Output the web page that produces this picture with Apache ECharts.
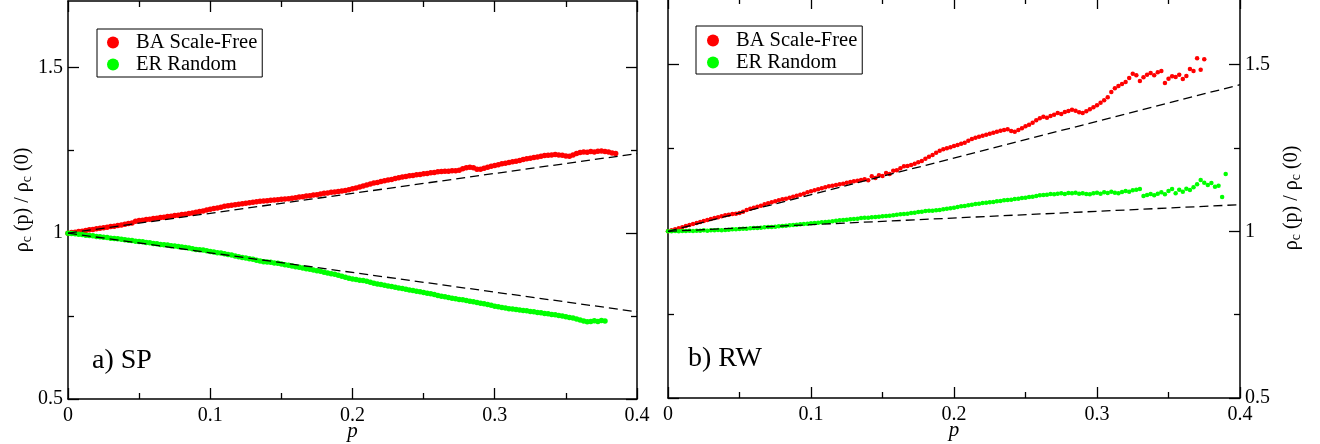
<!DOCTYPE html>
<html><head><meta charset="utf-8">
<script src="https://cdn.jsdelivr.net/npm/echarts@6/dist/echarts.min.js"></script>
<style>html,body{margin:0;padding:0;background:#fff}#c{width:1320px;height:444px}</style>
</head><body><div id="c"></div>
<script>
// p grid shared by all series
const P = [
0,0.0025,0.005,0.0075,0.01,0.0125,0.015,0.0175,0.02,0.0225,0.025,0.0275,0.03,0.0325,0.035,0.0375,0.04,0.0425,0.045,0.0475,
0.05,0.0525,0.055,0.0575,0.06,0.0625,0.065,0.0675,0.07,0.0725,0.075,0.0775,0.08,0.0825,0.085,0.0875,0.09,0.0925,0.095,0.0975,
0.1,0.1025,0.105,0.1075,0.11,0.1125,0.115,0.1175,0.12,0.1225,0.125,0.1275,0.13,0.1325,0.135,0.1375,0.14,0.1425,0.145,0.1475,
0.15,0.1525,0.155,0.1575,0.16,0.1625,0.165,0.1675,0.17,0.1725,0.175,0.1775,0.18,0.1825,0.185,0.1875,0.19,0.1925,0.195,0.1975,
0.2,0.2025,0.205,0.2075,0.21,0.2125,0.215,0.2175,0.22,0.2225,0.225,0.2275,0.23,0.2325,0.235,0.2375,0.24,0.2425,0.245,0.2475,
0.25,0.2525,0.255,0.2575,0.26,0.2625,0.265,0.2675,0.27,0.2725,0.275,0.2775,0.28,0.2825,0.285,0.2875,0.29,0.2925,0.295,0.2975,
0.3,0.3025,0.305,0.3075,0.31,0.3125,0.315,0.3175,0.32,0.3225,0.325,0.3275,0.33,0.3325,0.335,0.3375,0.34,0.3425,0.345,0.3475,
0.35,0.3525,0.355,0.3575,0.36,0.3625,0.365,0.3675,0.37,0.3725,0.375,0.3775,0.38,0.3825,0.385,0.3875,0.39];

// a) SP panel
const spBA = [
1.000,1.002,1.003,1.005,1.006,1.008,1.010,1.011,1.013,1.015,1.016,1.018,1.020,1.021,1.023,1.025,1.027,1.029,1.031,1.036,
1.038,1.039,1.041,1.042,1.044,1.045,1.047,1.048,1.050,1.051,1.053,1.054,1.056,1.057,1.059,1.061,1.063,1.065,1.067,1.070,
1.072,1.074,1.076,1.078,1.081,1.083,1.084,1.086,1.087,1.089,1.090,1.092,1.093,1.095,1.096,1.097,1.098,1.099,1.100,1.101,
1.102,1.103,1.104,1.105,1.107,1.109,1.110,1.112,1.113,1.115,1.116,1.118,1.120,1.121,1.123,1.124,1.126,1.127,1.129,1.131,
1.134,1.136,1.139,1.142,1.145,1.148,1.151,1.153,1.156,1.158,1.160,1.162,1.165,1.167,1.169,1.171,1.173,1.174,1.176,1.177,
1.179,1.180,1.182,1.183,1.185,1.186,1.187,1.187,1.188,1.188,1.190,1.194,1.197,1.199,1.197,1.193,1.193,1.196,1.199,1.202,
1.204,1.206,1.209,1.211,1.213,1.215,1.217,1.219,1.222,1.224,1.226,1.228,1.230,1.232,1.234,1.235,1.236,1.237,1.236,1.235,
1.233,1.232,1.236,1.240,1.243,1.245,1.244,1.246,1.245,1.247,1.248,1.246,1.245,1.242,1.240];
const spER = [
1.000,0.999,0.998,0.997,0.996,0.994,0.993,0.992,0.990,0.989,0.988,0.987,0.985,0.984,0.983,0.982,0.980,0.979,0.978,0.976,
0.975,0.974,0.972,0.971,0.969,0.968,0.966,0.965,0.964,0.962,0.961,0.960,0.958,0.957,0.955,0.953,0.951,0.950,0.949,0.947,
0.945,0.943,0.941,0.940,0.938,0.936,0.934,0.931,0.929,0.927,0.925,0.923,0.921,0.918,0.916,0.914,0.913,0.912,0.910,0.909,
0.907,0.905,0.903,0.901,0.899,0.897,0.895,0.893,0.891,0.889,0.887,0.885,0.882,0.880,0.878,0.876,0.873,0.870,0.867,0.864,
0.862,0.860,0.858,0.857,0.855,0.852,0.849,0.847,0.845,0.843,0.841,0.839,0.837,0.835,0.833,0.831,0.829,0.827,0.825,0.823,
0.821,0.819,0.817,0.815,0.812,0.810,0.808,0.806,0.804,0.802,0.800,0.799,0.797,0.795,0.793,0.791,0.789,0.787,0.785,0.783,
0.780,0.778,0.776,0.774,0.772,0.771,0.770,0.768,0.767,0.766,0.764,0.763,0.761,0.760,0.758,0.757,0.755,0.754,0.752,0.750,
0.748,0.746,0.744,0.741,0.738,0.735,0.733,0.734,0.736,0.734,0.737,0.735];

// b) RW panel
const rwBA = [
1.000,1.003,1.006,1.009,1.012,1.016,1.019,1.022,1.025,1.028,1.031,1.034,1.037,1.040,1.042,1.045,1.048,1.050,1.052,1.053,
1.055,1.059,1.064,1.068,1.071,1.074,1.077,1.081,1.084,1.087,1.090,1.093,1.096,1.098,1.101,1.104,1.107,1.110,1.113,1.117,
1.120,1.123,1.126,1.129,1.132,1.135,1.137,1.139,1.141,1.143,1.146,1.148,1.150,1.152,1.154,1.156,1.153,1.165,1.160,1.168,
1.166,1.175,1.172,1.182,1.183,1.189,1.195,1.196,1.199,1.203,1.207,1.211,1.218,1.224,1.229,1.236,1.242,1.246,1.249,1.252,
1.256,1.259,1.263,1.266,1.272,1.277,1.281,1.284,1.287,1.290,1.293,1.296,1.299,1.302,1.304,1.306,1.301,1.299,1.304,1.309,
1.315,1.320,1.326,1.333,1.339,1.344,1.341,1.346,1.350,1.355,1.352,1.358,1.361,1.365,1.362,1.357,1.355,1.360,1.366,1.372,
1.378,1.386,1.393,1.402,1.418,1.429,1.436,1.442,1.448,1.460,1.473,1.468,1.451,1.462,1.470,1.475,1.468,1.477,1.481,1.445,
1.458,1.465,1.463,1.470,1.457,1.466,1.487,1.481,1.519,1.485,1.516];
const rwER = [
1.000,1.000,1.001,1.000,1.001,1.001,1.002,1.001,1.002,1.002,1.003,1.002,1.003,1.003,1.004,1.003,1.004,1.005,1.006,1.006,
1.007,1.008,1.008,1.009,1.010,1.010,1.011,1.012,1.013,1.013,1.014,1.015,1.016,1.017,1.018,1.019,1.020,1.021,1.022,1.023,
1.024,1.025,1.026,1.027,1.028,1.029,1.030,1.032,1.033,1.034,1.035,1.036,1.037,1.038,1.040,1.041,1.041,1.042,1.043,1.044,
1.045,1.046,1.047,1.048,1.050,1.051,1.052,1.053,1.055,1.056,1.058,1.059,1.061,1.062,1.062,1.063,1.064,1.066,1.068,1.069,
1.071,1.073,1.075,1.076,1.078,1.080,1.082,1.083,1.085,1.086,1.087,1.088,1.090,1.091,1.093,1.094,1.095,1.097,1.098,1.100,
1.101,1.103,1.104,1.106,1.108,1.109,1.110,1.112,1.111,1.113,1.114,1.112,1.115,1.114,1.116,1.113,1.114,1.112,1.111,1.114,
1.116,1.113,1.117,1.115,1.119,1.116,1.114,1.118,1.121,1.119,1.123,1.125,1.127,1.106,1.109,1.112,1.108,1.113,1.117,1.111,
1.121,1.127,1.114,1.125,1.119,1.128,1.124,1.132,1.141,1.154,1.146,1.139,1.145,1.134,1.137,1.103,1.172];

// dashed reference lines (endpoints)
const fitP = [0, 0.4];
const spBAFit = [1, 1.24];
const spERFit = [1, 0.763];
const rwBAFit = [1, 1.44];
const rwERFit = [1, 1.08];

const yMajorTicks = [0.5, 1, 1.5];
const yMinorTicks = [0.75, 1.25];
const seriesNames = ['BA Scale-Free', 'ER Random'];
const panelLabels = ['a) SP', 'b) RW'];
const xTitle = 'p';
const yTitle = '{r|ρ}{s|c}{r| (p) / ρ}{s|c}{r| (0)}';

const FONT = 'Liberation Serif';
const RED = '#ff0000', GREEN = '#00ff00';

function pairs(xs, vs) { return vs.map((v, i) => [xs[i], v]); }

const AXLINE = {show: true, onZero: false, lineStyle: {color: '#000', width: 1.5}};
const NOLINE = {show: false, onZero: false};
const TICK = {color: '#000', width: 1.3};

function xAxes(g) {
  const base = {type: 'value', gridIndex: g, min: 0, max: 0.4, interval: 0.1,
    axisLine: AXLINE, splitLine: {show: false}, minorSplitLine: {show: false},
    axisTick: {inside: true, length: 11, lineStyle: TICK},
    minorTick: {show: true, splitNumber: 2, length: 6, lineStyle: TICK}};
  return [
    Object.assign({}, base, {position: 'bottom',
      axisLabel: {margin: 7, fontFamily: FONT, fontSize: 20, color: '#000'},
      name: xTitle, nameLocation: 'middle', nameGap: 22, nameMoveOverlap: false,
      nameTextStyle: {fontFamily: FONT, fontStyle: 'italic', fontSize: 21, color: '#000'}}),
    Object.assign({}, base, {position: 'top', axisLabel: {show: false}})
  ];
}

function yAxes(g, side, gap) {
  const other = side === 'left' ? 'right' : 'left';
  const base = {type: 'value', gridIndex: g, min: 0.5, max: 1.7, splitLine: {show: false}};
  return [
    Object.assign({}, base, {position: side, axisLine: AXLINE,
      axisTick: {inside: true, length: 11, customValues: yMajorTicks, lineStyle: TICK},
      axisLabel: {customValues: yMajorTicks, margin: 5, fontFamily: FONT, fontSize: 20, color: '#000'},
      name: yTitle, nameLocation: 'middle', nameRotate: 90, nameGap: gap, nameMoveOverlap: false,
      nameTextStyle: {fontFamily: FONT, fontSize: 20, color: '#000',
        rich: {r: {fontFamily: FONT, fontSize: 20, color: '#000'},
               s: {fontFamily: FONT, fontSize: 14, color: '#000', padding: [9, 0, 0, 0]}}}}),
    Object.assign({}, base, {position: side, axisLine: NOLINE,
      axisTick: {inside: true, length: 6, customValues: yMinorTicks, lineStyle: TICK},
      axisLabel: {show: false}}),
    Object.assign({}, base, {position: other, axisLine: AXLINE,
      axisTick: {inside: true, length: 11, customValues: yMajorTicks, lineStyle: TICK},
      axisLabel: {show: false}}),
    Object.assign({}, base, {position: other, axisLine: NOLINE,
      axisTick: {inside: true, length: 6, customValues: yMinorTicks, lineStyle: TICK},
      axisLabel: {show: false}})
  ];
}

function scatter(name, data, color, xi, yi, size) {
  return {type: 'scatter', name: name, data: pairs(P, data), xAxisIndex: xi, yAxisIndex: yi,
    symbol: 'circle', symbolSize: size, itemStyle: {color: color, opacity: 1}, z: 2, silent: true};
}
function fit(data, xi, yi) {
  return {type: 'line', data: pairs(fitP, data), xAxisIndex: xi, yAxisIndex: yi, symbol: 'none',
    lineStyle: {color: '#000', width: 1.3, type: [9, 5]}, z: 3, silent: true};
}

function legend(left, top, padding) {
  return {data: seriesNames, orient: 'vertical', left: left, top: top, padding: padding,
    itemGap: 1, itemWidth: 12, itemHeight: 13, icon: 'circle', selectedMode: false,
    borderColor: '#000', borderWidth: 1, backgroundColor: '#fff',
    textStyle: {fontFamily: FONT, fontSize: 20.5, color: '#000', lineHeight: 20, padding: [0, 0, 0, 12]}};
}

const chart = echarts.init(document.getElementById('c'), null, {renderer: 'canvas'});
chart.setOption({
  animation: false,
  backgroundColor: '#fff',
  grid: [
    {left: 68, top: 1, width: 569, height: 398, containLabel: false, outerBoundsMode: 'none'},
    {left: 668, top: -2, width: 572, height: 400, containLabel: false, outerBoundsMode: 'none'}
  ],
  title: [
    {text: panelLabels[0], left: 92, top: 347, padding: 0,
     textStyle: {fontFamily: FONT, fontSize: 28, fontWeight: 'normal', color: '#000'}},
    {text: panelLabels[1], left: 688, top: 345, padding: 0,
     textStyle: {fontFamily: FONT, fontSize: 28, fontWeight: 'normal', color: '#000'}}
  ],
  legend: [legend(97, 29, [3, 5, 2, 10]), legend(696, 26, [4, 5, 1, 11])],
  xAxis: xAxes(0).concat(xAxes(1)),
  yAxis: yAxes(0, 'left', 34).concat(yAxes(1, 'right', 40)),
  series: [
    scatter(seriesNames[0], spBA, RED, 0, 0, 5.5),
    scatter(seriesNames[1], spER, GREEN, 0, 0, 5.5),
    fit(spBAFit, 0, 0),
    fit(spERFit, 0, 0),
    scatter(seriesNames[0], rwBA, RED, 2, 4, 4.5),
    scatter(seriesNames[1], rwER, GREEN, 2, 4, 4.5),
    fit(rwBAFit, 2, 4),
    fit(rwERFit, 2, 4)
  ]
});
</script>
</body></html>
